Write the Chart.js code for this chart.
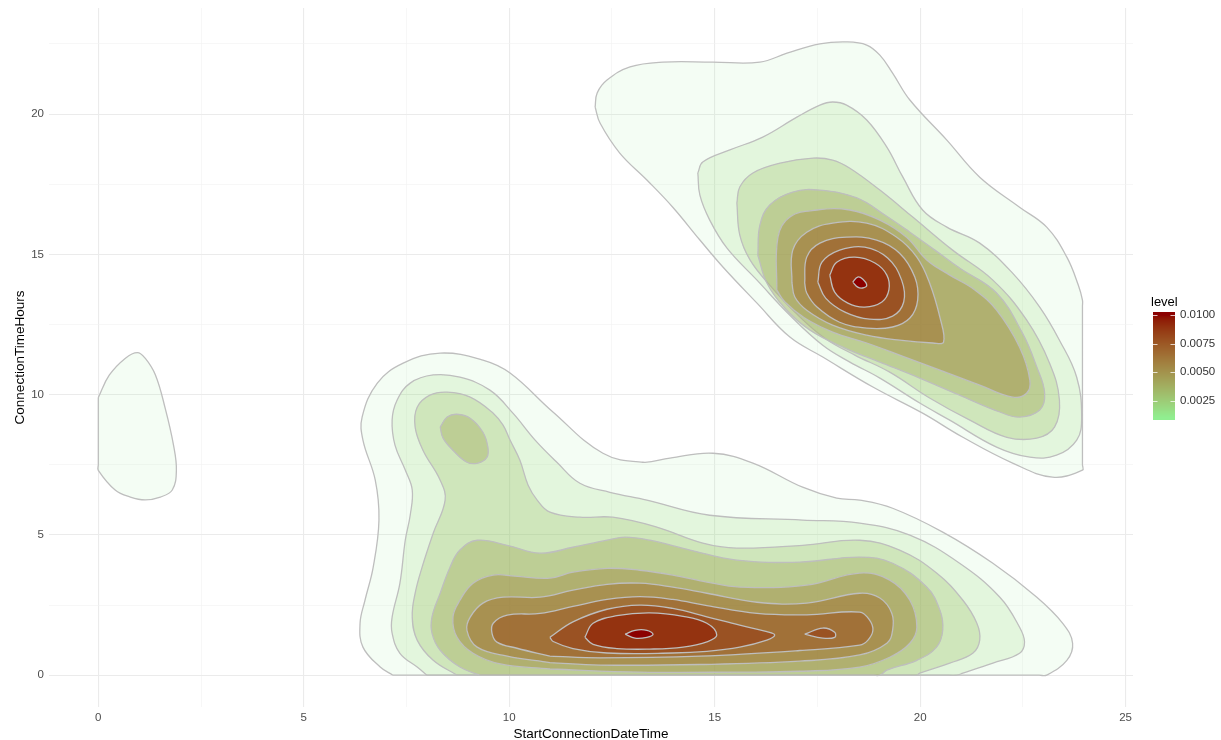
<!DOCTYPE html>
<html>
<head>
<meta charset="utf-8">
<script src="https://cdn.jsdelivr.net/npm/chart.js@4.4.1/dist/chart.umd.min.js"></script>
<style>
  html, body { margin: 0; padding: 0; background: #ffffff; }
  #wrap { width: 1221px; height: 740px; }
</style>
</head>
<body>
<div id="wrap"><canvas id="chart" width="1221" height="740"></canvas></div>
<script>
// Density levels of the 2-D kernel estimate (one contour per level)
const levels = [0.001, 0.002, 0.003, 0.004, 0.005, 0.006, 0.007, 0.008, 0.009, 0.010];

// Axis ticks (hours)
const xMajor = [0, 5, 10, 15, 20, 25];
const xMinor = [2.5, 7.5, 12.5, 17.5, 22.5];
const yMajor = [0, 5, 10, 15, 20];
const yMinor = [2.5, 7.5, 12.5, 17.5, 22.5];

// Colour bar breaks
const legendBreaks = [0.0025, 0.0050, 0.0075, 0.0100];
const legendLabels = ['0.0025', '0.0050', '0.0075', '0.0100'];

// Contours as [start hour, connection hours] vertices
// Sessions started just after midnight
const earlyL1 = [[0,9.9],[0.27,10.7],[0.66,11.3],[0.95,11.5],[1.14,11.3],[1.39,10.7],[1.63,9.5],[1.83,8.2],[1.90,7.3],[1.80,6.6],[1.51,6.35],[1.14,6.25],[0.78,6.35],[0.41,6.6],[0,7.3],[0,7.5],[0,9.7],[0,9.9]];

// Daytime sessions (short connections)
const dayL1 = [[7.17,0],[6.86,0.29],[6.44,1.0],[6.37,1.85],[6.49,2.67],[6.69,3.85],[6.83,5.53],[6.74,6.95],[6.44,8.38],[6.42,9.2],[6.79,10.41],[7.42,11.12],[8.32,11.48],[9.36,11.23],[10.02,10.77],[11.05,9.40],[12.28,7.91],[13.25,7.59],[13.91,7.74],[14.96,7.91],[15.93,7.56],[17.14,6.70],[17.97,6.31],[18.53,6.24],[19.33,5.95],[20.55,5.10],[21.77,3.99],[22.84,2.78],[23.47,1.85],[23.71,1.14],[23.57,0.53],[23.08,0],[22.9,0],[7.35,0],[7.17,0]];
const dayL2 = [[8.00,0],[7.76,0.29],[7.34,0.78],[7.15,1.50],[7.15,2.07],[7.34,3.28],[7.47,4.81],[7.59,5.70],[7.64,6.60],[7.47,7.31],[7.22,8.20],[7.15,9.09],[7.27,9.80],[7.59,10.41],[8.15,10.70],[8.80,10.62],[9.53,10.16],[10.09,9.34],[10.63,8.38],[11.16,7.59],[11.72,6.84],[12.45,6.52],[13.35,6.24],[14.88,5.70],[17.14,5.53],[18.53,5.42],[19.75,4.99],[20.96,3.99],[21.94,2.78],[22.42,1.71],[22.54,1.18],[22.42,0.78],[21.77,0.43],[21.04,0.07],[20.89,0],[20.7,0],[8.2,0],[8.00,0]];
const dayL3 = [[8.73,0],[8.15,0.53],[7.76,1.25],[7.64,2.07],[7.71,2.92],[7.88,3.85],[8.15,5.06],[8.44,6.24],[8.32,6.95],[7.90,8.02],[7.71,8.84],[7.76,9.55],[8.07,9.98],[8.49,10.09],[9.05,9.91],[9.61,9.34],[9.85,8.91],[10.02,8.38],[10.26,7.66],[10.46,6.77],[10.68,6.24],[10.99,5.81],[11.72,5.63],[12.52,5.63],[13.59,5.28],[14.71,4.71],[15.54,4.53],[17.14,4.63],[18.53,4.81],[19.50,4.46],[20.40,3.64],[21.04,2.67],[21.38,1.85],[21.45,1.25],[21.28,0.78],[20.72,0.43],[19.99,0.07],[19.92,0],[19.75,0],[8.9,0],[8.73,0]];
const dayL4 = [[9.29,0],[8.80,0.29],[8.32,0.89],[8.12,1.50],[8.12,2.07],[8.32,2.92],[8.56,3.85],[8.80,4.46],[9.22,4.81],[9.95,4.63],[10.75,4.35],[11.55,4.56],[12.38,4.81],[12.82,4.92],[13.42,4.81],[14.40,4.46],[15.54,4.10],[17.07,4.03],[18.53,4.21],[19.33,3.99],[20.16,3.14],[20.48,2.32],[20.55,1.60],[20.40,1.00],[19.92,0.53],[19.19,0.18],[19.02,0],[18.85,0],[9.45,0],[9.29,0]];
const dayL4b = [[8.32,8.84],[8.49,9.20],[8.73,9.30],[9.05,9.16],[9.36,8.66],[9.48,8.13],[9.46,7.77],[9.24,7.56],[8.97,7.59],[8.63,8.02],[8.39,8.45],[8.32,8.84]];
const dayL5 = [[10.99,0.22],[9.78,0.40],[9.12,0.78],[8.73,1.35],[8.63,2.07],[8.80,2.67],[9.12,3.28],[9.61,3.57],[10.14,3.53],[10.99,3.46],[11.55,3.67],[12.38,3.81],[13.18,3.74],[13.98,3.57],[14.81,3.32],[15.61,3.14],[17.24,3.21],[18.53,3.64],[19.26,3.39],[19.75,2.67],[19.92,1.71],[19.75,1.14],[19.26,0.64],[18.53,0.29],[17.07,0.14],[15.61,0.11],[13.18,0.11],[10.99,0.22]];
const dayL6 = [[10.99,0.45],[9.95,0.68],[9.22,1.00],[8.97,1.60],[9.05,2.07],[9.36,2.57],[9.85,2.78],[10.75,2.78],[11.55,3.03],[12.38,3.24],[13.18,3.28],[13.98,3.14],[14.81,2.92],[16.03,2.60],[17.24,2.57],[18.53,2.92],[19.02,2.75],[19.31,2.21],[19.33,1.60],[19.19,1.14],[18.53,0.72],[17.07,0.50],[14.64,0.38],[12.21,0.36],[10.99,0.45]];
const dayL7 = [[10.99,0.68],[10.19,0.96],[9.70,1.18],[9.58,1.50],[9.61,1.85],[9.95,2.14],[10.75,2.20],[11.55,2.45],[12.38,2.70],[13.18,2.80],[13.98,2.70],[14.81,2.48],[16.03,2.20],[17.24,2.15],[18.53,2.25],[18.77,1.96],[18.85,1.60],[18.73,1.25],[18.53,1.07],[17.07,0.88],[14.64,0.68],[12.21,0.62],[10.99,0.68]];
const dayL8 = [[10.99,1.35],[11.55,1.90],[12.38,2.35],[13.18,2.50],[13.98,2.38],[14.81,2.08],[15.61,1.78],[16.27,1.55],[16.46,1.43],[16.27,1.25],[15.61,1.00],[14.81,0.85],[13.98,0.79],[12.38,0.79],[11.55,0.95],[11.07,1.20],[10.99,1.35]];
const dayL8b = [[17.19,1.46],[17.63,1.68],[17.92,1.53],[17.92,1.35],[17.63,1.32],[17.19,1.46]];
const dayL9 = [[11.84,1.35],[12.04,1.85],[12.62,2.12],[13.42,2.22],[14.23,2.10],[14.81,1.85],[15.05,1.43],[14.83,1.20],[14.23,1.00],[13.42,0.93],[12.62,0.95],[12.04,1.10],[11.84,1.35]];
const dayL10 = [[12.82,1.46],[13.06,1.60],[13.35,1.60],[13.50,1.46],[13.35,1.35],[13.06,1.32],[12.82,1.46]];

// Evening sessions (long, overnight connections)
const nightL1 = [[12.09,20.25],[12.14,20.75],[12.38,21.21],[12.94,21.68],[13.74,21.85],[14.96,21.85],[16.10,21.85],[16.76,22.17],[17.56,22.50],[18.21,22.57],[18.70,22.46],[19.02,22.10],[19.33,21.46],[19.75,20.50],[20.65,19.07],[21.45,17.75],[22.42,16.68],[23.08,15.97],[23.57,14.90],[23.85,13.90],[23.95,13.37],[23.95,13.15],[23.95,7.5],[23.95,7.31],[23.22,7.06],[22.25,7.56],[21.04,8.48],[20.06,9.34],[18.85,10.27],[17.63,11.34],[16.83,12.05],[16.03,13.26],[15.20,14.55],[14.64,15.51],[13.98,16.68],[13.35,17.65],[12.69,18.61],[12.21,19.68],[12.09,20.25]];
const nightL2 = [[14.59,17.90],[14.71,18.29],[15.37,18.72],[16.17,19.18],[17.00,19.89],[17.56,20.32],[17.87,20.43],[18.21,20.32],[18.70,19.79],[19.19,18.82],[19.58,17.75],[20.06,16.58],[20.65,15.97],[21.45,15.40],[22.25,14.33],[22.91,13.12],[23.39,11.94],[23.81,10.62],[23.93,9.20],[23.81,8.38],[23.32,7.84],[22.67,7.77],[21.86,8.13],[20.72,9.09],[19.99,9.70],[19.02,10.59],[18.29,11.16],[17.63,11.76],[16.83,12.83],[16.03,14.08],[15.30,15.22],[14.88,16.22],[14.64,17.11],[14.59,17.90]];
const nightL3 = [[15.54,16.83],[15.61,17.40],[15.93,17.90],[16.59,18.25],[17.39,18.43],[17.87,18.36],[18.29,18.07],[19.02,17.29],[19.82,16.33],[20.79,15.15],[21.77,14.08],[22.59,12.66],[23.15,11.12],[23.39,9.80],[23.27,8.84],[22.84,8.45],[22.11,8.48],[21.21,9.09],[20.23,9.88],[19.26,10.80],[18.41,11.41],[17.68,12.01],[16.95,12.94],[16.34,13.90],[15.86,14.80],[15.61,15.69],[15.54,16.83]];
const nightL4 = [[16.05,14.97],[16.10,16.04],[16.34,16.76],[16.90,17.22],[17.56,17.29],[18.46,17.01],[19.14,16.40],[19.75,15.79],[20.36,15.15],[20.96,14.51],[21.86,13.62],[22.49,12.19],[22.84,10.98],[23.03,10.05],[22.91,9.45],[22.42,9.20],[21.94,9.38],[20.96,9.98],[19.99,10.59],[19.02,11.16],[18.17,11.66],[17.32,12.30],[16.71,13.08],[16.27,13.98],[16.05,14.97]];
const nightL5 = [[16.51,13.73],[16.54,15.61],[16.83,16.33],[17.49,16.58],[18.29,16.58],[19.02,16.22],[19.67,15.61],[20.16,14.80],[20.72,14.26],[21.33,13.73],[21.86,13.01],[22.42,11.69],[22.67,10.52],[22.59,10.05],[22.25,9.91],[21.45,10.34],[20.48,10.87],[19.50,11.41],[18.70,11.84],[17.87,12.23],[17.19,12.73],[16.71,13.30],[16.51,13.73]];
const nightL6 = [[16.88,13.98],[16.90,15.15],[17.24,15.79],[17.87,16.11],[18.70,16.11],[19.43,15.61],[19.92,14.90],[20.23,13.98],[20.48,12.76],[20.57,11.87],[20.31,11.84],[19.50,11.94],[18.70,12.12],[17.87,12.48],[17.24,13.01],[16.95,13.48],[16.88,13.98]];
const nightL7 = [[17.19,13.98],[17.24,14.90],[17.56,15.40],[18.21,15.61],[18.94,15.51],[19.50,15.04],[19.87,14.19],[19.94,13.37],[19.75,12.73],[19.33,12.41],[18.70,12.37],[18.04,12.58],[17.49,13.12],[17.24,13.62],[17.19,13.98]];
const nightL8 = [[17.51,14.01],[17.61,14.72],[18.04,15.15],[18.65,15.26],[19.21,14.87],[19.55,14.08],[19.60,13.30],[19.33,12.80],[18.77,12.69],[18.17,12.94],[17.70,13.44],[17.51,14.01]];
const nightL9 = [[17.80,14.26],[17.97,14.72],[18.41,14.90],[18.90,14.69],[19.19,14.26],[19.24,13.73],[19.07,13.30],[18.65,13.12],[18.24,13.26],[17.92,13.65],[17.80,14.26]];
const nightL10 = [[18.36,14.01],[18.48,14.19],[18.60,14.12],[18.70,13.90],[18.60,13.80],[18.48,13.83],[18.36,14.01]];

// Contours grouped by level index
const contoursByLevel = [
  [earlyL1, dayL1, nightL1],
  [dayL2, nightL2],
  [dayL3, nightL3],
  [dayL4, dayL4b, nightL4],
  [dayL5, nightL5],
  [dayL6, nightL6],
  [dayL7, nightL7],
  [dayL8, dayL8b, nightL8],
  [dayL9, nightL9],
  [dayL10, nightL10]
];

// ---- colour scale: lightgreen -> darkred, interpolated in CIE Lab ----
function toLin(c) { c /= 255; return c <= 0.04045 ? c / 12.92 : Math.pow((c + 0.055) / 1.055, 2.4); }
function fromLin(c) { const v = c <= 0.0031308 ? 12.92 * c : 1.055 * Math.pow(c, 1 / 2.4) - 0.055; return Math.round(Math.max(0, Math.min(1, v)) * 255); }
function rgbToLab([r, g, b]) {
  const R = toLin(r), G = toLin(g), B = toLin(b);
  const X = (0.4124 * R + 0.3576 * G + 0.1805 * B) / 0.95047;
  const Y = (0.2126 * R + 0.7152 * G + 0.0722 * B);
  const Z = (0.0193 * R + 0.1192 * G + 0.9505 * B) / 1.08883;
  const f = t => t > 0.008856 ? Math.cbrt(t) : 7.787 * t + 16 / 116;
  const fx = f(X), fy = f(Y), fz = f(Z);
  return [116 * fy - 16, 500 * (fx - fy), 200 * (fy - fz)];
}
function labToRgb([L, a, b]) {
  const fy = (L + 16) / 116, fx = fy + a / 500, fz = fy - b / 200;
  const fi = t => t * t * t > 0.008856 ? t * t * t : (t - 16 / 116) / 7.787;
  const X = fi(fx) * 0.95047, Y = fi(fy), Z = fi(fz) * 1.08883;
  const R = 3.2406 * X - 1.5372 * Y - 0.4986 * Z;
  const G = -0.9689 * X + 1.8758 * Y + 0.0415 * Z;
  const B = 0.0557 * X - 0.2040 * Y + 1.0570 * Z;
  return [fromLin(R), fromLin(G), fromLin(B)];
}
const labLow = rgbToLab([144, 238, 144]);   // lightgreen
const labHigh = rgbToLab([139, 0, 0]);      // darkred
const lvMin = levels[0], lvMax = levels[levels.length - 1];
function levelRgb(v) {
  const t = Math.max(0, Math.min(1, (v - lvMin) / (lvMax - lvMin)));
  return labToRgb(labLow.map((c, i) => c + (labHigh[i] - c) * t));
}
function levelAlpha(v) {
  const t = Math.max(0, Math.min(1, (v - lvMin) / (lvMax - lvMin)));
  return 0.1 + 0.9 * t;
}

// ---- datasets: one filled polygon per contour path ----
const datasets = [];
contoursByLevel.forEach((paths, i) => {
  const v = levels[i];
  const [r, g, b] = levelRgb(v);
  paths.forEach(path => {
    datasets.push({
      data: path.map(([x, y]) => ({ x, y })),
      fill: 'shape',
      backgroundColor: `rgba(${r},${g},${b},${levelAlpha(v)})`,
      borderColor: '#bebebe',
      borderWidth: 1.3,
      pointRadius: 0,
      tension: 0.4,
      order: -i
    });
  });
});

const FONT = "'Liberation Sans', Arial, Helvetica, sans-serif";

// ---- colour bar legend ----
const colorbar = {
  id: 'colorbar',
  afterDraw(chart) {
    const ctx = chart.ctx;
    const left = 1153, width = 22, top = 312, bottom = 420;
    const yOf = v => 315 + (0.0100 - v) * 11400;
    const vOf = y => 0.0100 - (y - 315) / 11400;
    ctx.save();
    for (let y = top; y < bottom; y++) {
      const [r, g, b] = levelRgb(vOf(y + 0.5));
      ctx.fillStyle = `rgb(${r},${g},${b})`;
      ctx.fillRect(left, y, width, 1);
    }
    ctx.strokeStyle = 'rgba(255,255,255,0.75)';
    ctx.lineWidth = 1;
    legendBreaks.forEach(bv => {
      const y = Math.round(yOf(bv)) + 0.5;
      ctx.beginPath();
      ctx.moveTo(left, y); ctx.lineTo(left + 4.5, y);
      ctx.moveTo(left + width - 4.5, y); ctx.lineTo(left + width, y);
      ctx.stroke();
    });
    ctx.fillStyle = '#333333';
    ctx.font = `11.5px ${FONT}`;
    ctx.textAlign = 'left';
    ctx.textBaseline = 'middle';
    legendBreaks.forEach((bv, i) => ctx.fillText(legendLabels[i], 1180, yOf(bv)));
    ctx.fillStyle = '#000000';
    ctx.font = `13px ${FONT}`;
    ctx.fillText('level', 1151, 302);
    ctx.restore();
  }
};

const gridColor = majors => c => (c.tick && majors.includes(c.tick.value)) ? '#ebebeb' : '#f2f2f2';
const gridWidth = majors => c => (c.tick && majors.includes(c.tick.value)) ? 1.1 : 0.6;

new Chart(document.getElementById('chart'), {
  type: 'line',
  data: { datasets },
  plugins: [colorbar],
  options: {
    responsive: false,
    animation: false,
    devicePixelRatio: 1,
    layout: { padding: { top: 8, right: 88, bottom: 0, left: 0 } },
    plugins: { legend: { display: false }, tooltip: { enabled: false } },
    scales: {
      x: {
        type: 'linear',
        min: -1.2,
        max: 25.18,
        afterBuildTicks: s => { s.ticks = [...xMajor, ...xMinor].sort((a, b) => a - b).map(v => ({ value: v })); },
        afterFit: s => { s.height = 33; s.paddingLeft = 0; s.paddingRight = 0; },
        border: { display: false },
        grid: { drawTicks: false, color: gridColor(xMajor), lineWidth: gridWidth(xMajor) },
        ticks: {
          autoSkip: false, maxRotation: 0, padding: 4, color: '#4d4d4d',
          font: { family: FONT, size: 11.5 },
          callback: v => xMajor.includes(v) ? String(v) : ''
        },
        title: {
          display: true, text: 'StartConnectionDateTime', color: '#000000',
          font: { family: FONT, size: 13.5, lineHeight: 0.85 }, padding: { top: 0, bottom: 0 }
        }
      },
      y: {
        type: 'linear',
        min: -1.134,
        max: 23.78,
        afterBuildTicks: s => { s.ticks = [...yMajor, ...yMinor].sort((a, b) => a - b).map(v => ({ value: v })); },
        afterFit: s => { s.width = 49; s.paddingTop = 0; s.paddingBottom = 0; },
        border: { display: false },
        grid: { drawTicks: false, color: gridColor(yMajor), lineWidth: gridWidth(yMajor) },
        ticks: {
          autoSkip: false, padding: 5, color: '#4d4d4d',
          font: { family: FONT, size: 11.5 },
          callback: v => yMajor.includes(v) ? String(v) : ''
        },
        title: {
          display: true, text: 'ConnectionTimeHours', color: '#000000',
          font: { family: FONT, size: 13.5, lineHeight: 1 }, padding: { top: 14, bottom: 0 }
        }
      }
    }
  }
});
</script>
</body>
</html>
